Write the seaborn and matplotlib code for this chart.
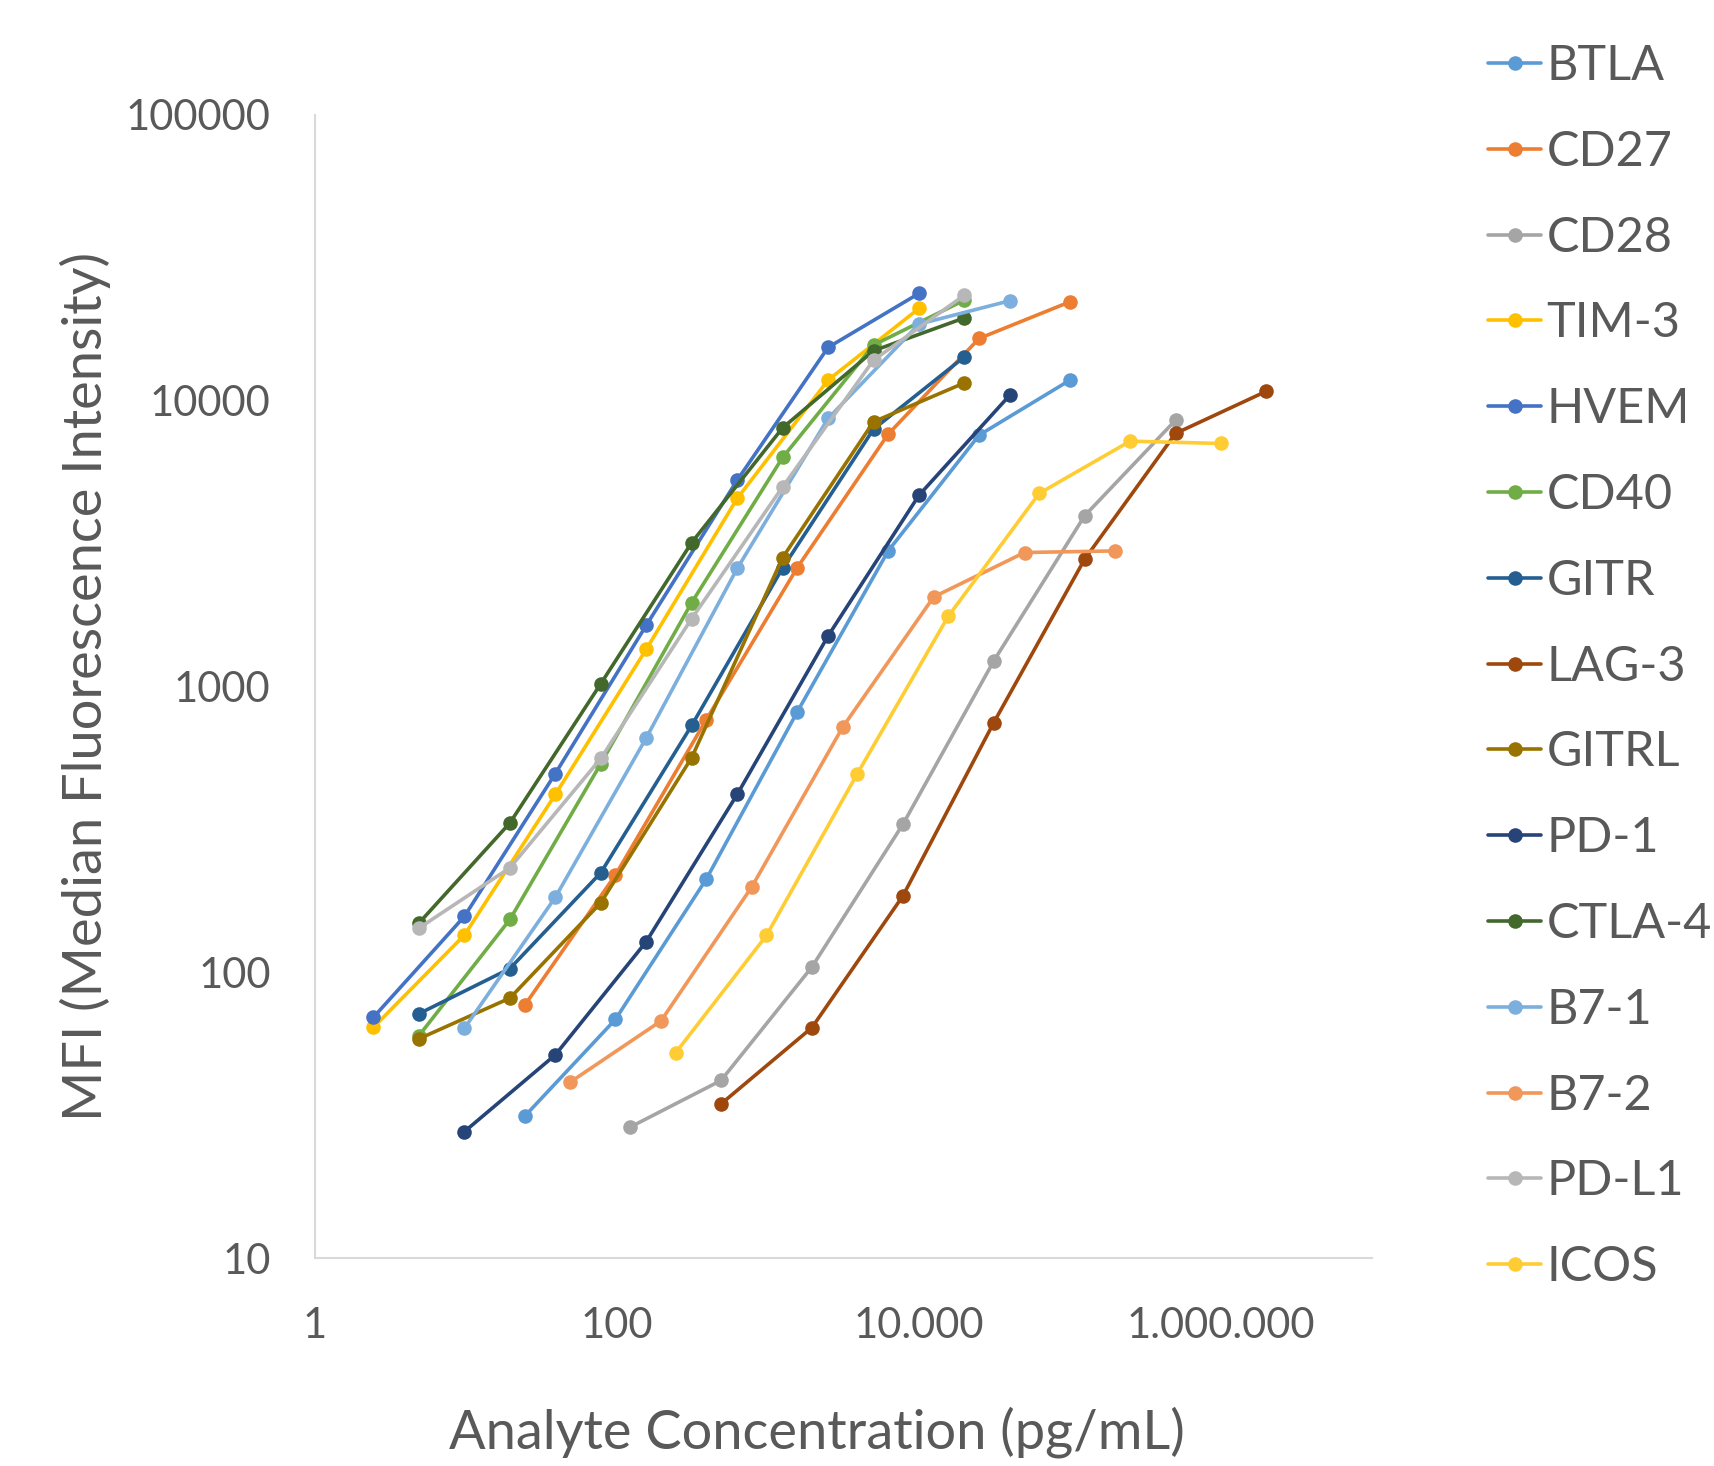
import matplotlib
matplotlib.use("Agg")
import matplotlib.pyplot as plt
import matplotlib.ticker as mticker
import pandas as pd
import seaborn as sns

# Standard-curve concentrations (pg/mL), 4-fold dilution series per top standard
conc_10k = [2.44, 9.77, 39.06, 156.25, 625, 2500, 10000]
conc_20k = [4.88, 19.53, 78.13, 312.5, 1250, 5000, 20000]
conc_40k = [9.77, 39.06, 156.25, 625, 2500, 10000, 40000]
conc_100k = [24.41, 97.66, 390.63, 1562.5, 6250, 25000, 100000]
conc_200k = [48.83, 195.31, 781.25, 3125, 12500, 50000, 200000]
conc_500k = [122.07, 488.28, 1953.13, 7812.5, 31250, 125000, 500000]
conc_1m = [244.14, 976.56, 3906.25, 15625, 62500, 250000, 1000000]
conc_2m = [488.28, 1953.13, 7812.5, 31250, 125000, 500000, 2000000]

# Median fluorescence intensity per analyte
mfi_btla = [31.3, 68.4, 212, 815, 2982, 7580, 11810]
mfi_cd27 = [76.5, 219, 766, 2606, 7640, 16520, 22200]
mfi_cd28 = [28.7, 41.8, 104.3, 329, 1228, 3958, 8550]
mfi_tim3 = [64.2, 135, 419, 1350, 4550, 11810, 21040]
mfi_hvem = [69.6, 157, 496, 1638, 5270, 15370, 23750]
mfi_cd40 = [60, 153, 537, 1967, 6332, 15660, 22500]
mfi_gitr = [71.6, 103, 223, 731, 2600, 7955, 14250]
mfi_lag3 = [34.6, 64, 184.8, 747, 2789, 7685, 10800]
mfi_gitrl = [58.5, 81.2, 175, 564, 2826, 8440, 11550]
mfi_pd1 = [27.7, 51.4, 128, 419, 1503, 4670, 10470]
mfi_ctla4 = [148.6, 333, 1023, 3190, 8040, 14960, 19500]
mfi_b71 = [63.7, 183, 661, 2588, 8670, 18540, 22390]
mfi_b72 = [41.2, 67.5, 199, 721, 2057, 2944, 2982]
mfi_pdl1 = [142.7, 232, 560, 1729, 4995, 13870, 23420]
mfi_icos = [52.2, 134.5, 495.5, 1761, 4740, 7220, 7087]

analytes = ["BTLA", "CD27", "CD28", "TIM-3", "HVEM", "CD40", "GITR", "LAG-3",
            "GITRL", "PD-1", "CTLA-4", "B7-1", "B7-2", "PD-L1", "ICOS"]
concs = [conc_100k, conc_100k, conc_500k, conc_10k, conc_10k, conc_20k, conc_20k,
         conc_2m, conc_20k, conc_40k, conc_20k, conc_40k, conc_200k, conc_20k, conc_1m]
mfis = [mfi_btla, mfi_cd27, mfi_cd28, mfi_tim3, mfi_hvem, mfi_cd40, mfi_gitr,
        mfi_lag3, mfi_gitrl, mfi_pd1, mfi_ctla4, mfi_b71, mfi_b72, mfi_pdl1, mfi_icos]
colors = ["#5B9BD5", "#ED7D31", "#A5A5A5", "#FFC000", "#4472C4", "#70AD47",
          "#255E91", "#9E480E", "#997300", "#264478", "#43682B", "#7CAFDD",
          "#F1975A", "#B7B7B7", "#FFCD33"]

x_ticks = [1, 100, 10000, 1000000]
y_ticks = [10, 100, 1000, 10000, 100000]

rows = []
for name, xs, ys in zip(analytes, concs, mfis):
    for xv, yv in zip(xs, ys):
        rows.append({"analyte": name, "conc": xv, "mfi": yv})
df = pd.DataFrame(rows)

sns.set_theme(style="white")
plt.rcParams["font.family"] = ["Lato", "DejaVu Sans"]
text_color = "#595959"
axis_color = "#D9D9D9"

W, H = 1714, 1466
fig = plt.figure(figsize=(W / 100, H / 100), dpi=100)
ax = fig.add_axes([315 / W, 1 - 1258 / H, (1372 - 315) / W, (1258 - 115) / H])

sns.lineplot(data=df, x="conc", y="mfi", hue="analyte", hue_order=analytes,
             palette=dict(zip(analytes, colors)), marker="o", markersize=10.5,
             markeredgewidth=0, linewidth=2.6, sort=False, estimator=None,
             legend=False, ax=ax)

ax.set_xscale("log")
ax.set_yscale("log")
ax.set_xlim(1, 1e7)
ax.set_ylim(10, 1e5)
ax.xaxis.set_major_locator(mticker.FixedLocator(x_ticks))
ax.yaxis.set_major_locator(mticker.FixedLocator(y_ticks))
ax.xaxis.set_minor_locator(mticker.NullLocator())
ax.yaxis.set_minor_locator(mticker.NullLocator())
ax.xaxis.set_major_formatter(mticker.FuncFormatter(lambda v, p: f"{int(round(v)):,}".replace(",", ".")))
ax.yaxis.set_major_formatter(mticker.FuncFormatter(lambda v, p: f"{int(round(v))}"))
ax.tick_params(axis="both", length=0, labelsize=30, colors=text_color)
ax.tick_params(axis="x", pad=35)
ax.tick_params(axis="y", pad=32)

for side in ("top", "right"):
    ax.spines[side].set_visible(False)
for side in ("left", "bottom"):
    ax.spines[side].set_color(axis_color)
    ax.spines[side].set_linewidth(1.5)
ax.grid(False)

ax.set_xlabel("Analyte Concentration (pg/mL)", fontsize=39, color=text_color)
ax.set_ylabel("MFI (Median Fluorescence Intensity)", fontsize=39, color=text_color)
ax.xaxis.label.set_va("center")
ax.yaxis.label.set_va("center")
ax.xaxis.set_label_coords(0.4746, -0.152)
ax.yaxis.set_label_coords(-0.2176, 0.5)

handles = ax.get_lines()[:len(analytes)]
fig.legend(handles, analytes, loc="upper left",
           bbox_to_anchor=(1488 / W, 1 - 44 / H), frameon=False,
           fontsize=35, labelcolor=text_color, handlelength=1.1,
           handletextpad=0.1, labelspacing=0.86, borderpad=0,
           borderaxespad=0, markerscale=1.0)

fig.savefig("out.png", dpi=100, facecolor="white")
